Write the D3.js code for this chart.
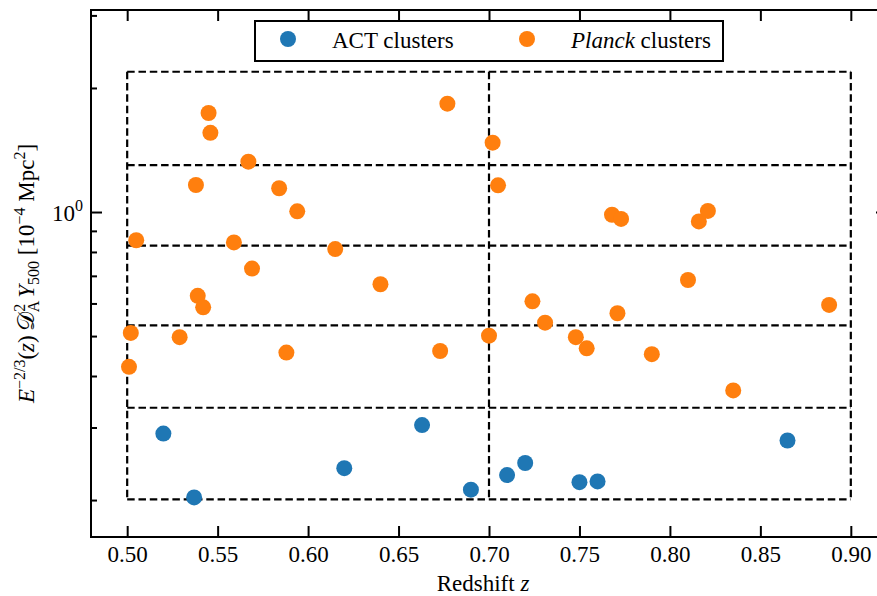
<!DOCTYPE html>
<html>
<head>
<meta charset="utf-8">
<script src="https://cdn.jsdelivr.net/npm/d3@7"></script>
<style>
  html, body { margin: 0; padding: 0; background: #fff; }
  svg { display: block; }
  text { font-family: "Liberation Serif", "DejaVu Serif", serif; fill: #000; }
</style>
</head>
<body>
<svg id="chart" width="877" height="596"></svg>
<script>
// ---------------- data ----------------
const actZ = [0.520, 0.537, 0.620, 0.663, 0.690, 0.710, 0.720, 0.750, 0.760, 0.865];
const actY = [0.290, 0.203, 0.239, 0.304, 0.212, 0.230, 0.246, 0.221, 0.222, 0.279];

const planckZ = [0.501, 0.502, 0.505, 0.529, 0.538, 0.539, 0.542, 0.545, 0.546, 0.559,
                 0.567, 0.569, 0.584, 0.588, 0.594, 0.615, 0.640, 0.673, 0.677, 0.700,
                 0.702, 0.705, 0.724, 0.731, 0.748, 0.754, 0.768, 0.773, 0.771, 0.790,
                 0.810, 0.816, 0.821, 0.835, 0.888];
const planckY = [0.421, 0.509, 0.854, 0.497, 1.163, 0.626, 0.587, 1.739, 1.557, 0.844,
                 1.325, 0.729, 1.142, 0.456, 1.004, 0.813, 0.668, 0.460, 1.832, 0.501,
                 1.473, 1.161, 0.607, 0.539, 0.497, 0.467, 0.985, 0.962, 0.568, 0.452,
                 0.684, 0.949, 1.006, 0.369, 0.595];

// bin grid (dashed boxes)
const binZ = [0.5, 0.7, 0.9];
const binY = [0.2007, 0.335, 0.531, 0.8285, 1.30, 2.19];

// ticks
const xTicks = [0.50, 0.55, 0.60, 0.65, 0.70, 0.75, 0.80, 0.85, 0.90];
const xTickLabels = ["0.50", "0.55", "0.60", "0.65", "0.70", "0.75", "0.80", "0.85", "0.90"];
const yMajorTicks = [1];
const yMinorTicks = [0.2, 0.3, 0.4, 0.5, 0.6, 0.7, 0.8, 0.9, 2, 3];

const seriesNames = ["ACT clusters", "Planck clusters"];
const colors = ["#1f77b4", "#ff7f0e"];

// ---------------- layout ----------------
const L = 91, R = 887, T = 10, B = 537;
const svg = d3.select("#chart");
svg.append("rect").attr("width", 877).attr("height", 596).attr("fill", "#fff");

const x = d3.scaleLinear().domain([0.48, 0.92]).range([L, R]);
const y = d3.scaleLog().domain([0.1627, 3.092]).range([B, T]);

const dash = "7.5,3.8";
const grid = svg.append("g").attr("fill", "none").attr("stroke", "#000")
  .attr("stroke-width", 2.2).attr("stroke-dasharray", dash);

binZ.forEach(z => {
  grid.append("path").attr("d", d3.line()([[x(z), y(binY[binY.length - 1])], [x(z), y(binY[0])]]));
});
binY.forEach(v => {
  grid.append("path").attr("d", d3.line()([[x(binZ[0]), y(v)], [x(binZ[binZ.length - 1]), y(v)]]));
});

// points
const pts = svg.append("g");
pts.selectAll("circle.act").data(actZ.map((z, i) => [z, actY[i]])).enter()
  .append("circle").attr("class", "act")
  .attr("cx", d => x(d[0])).attr("cy", d => y(d[1])).attr("r", 8)
  .attr("fill", colors[0]);
pts.selectAll("circle.planck").data(planckZ.map((z, i) => [z, planckY[i]])).enter()
  .append("circle").attr("class", "planck")
  .attr("cx", d => x(d[0])).attr("cy", d => y(d[1])).attr("r", 8)
  .attr("fill", colors[1]);

// ---------------- axes ----------------
const fs = 23;
const axB = svg.append("g").attr("transform", `translate(0,${B})`)
  .call(d3.axisBottom(x).tickValues(xTicks).tickSizeInner(-11).tickSizeOuter(0)
    .tickPadding(25).tickFormat((d, i) => xTickLabels[i]));
const axT = svg.append("g").attr("transform", `translate(0,${T})`)
  .call(d3.axisTop(x).tickValues(xTicks).tickSizeInner(-11).tickSizeOuter(0).tickFormat(""));
const axLmin = svg.append("g").attr("transform", `translate(${L},0)`)
  .call(d3.axisLeft(y).tickValues(yMinorTicks).tickSizeInner(-6).tickSizeOuter(0).tickFormat(""));
const axLmaj = svg.append("g").attr("transform", `translate(${L},0)`)
  .call(d3.axisLeft(y).tickValues(yMajorTicks).tickSizeInner(-11).tickSizeOuter(0).tickFormat(""));
const axRmin = svg.append("g").attr("transform", `translate(${R},0)`)
  .call(d3.axisRight(y).tickValues(yMinorTicks).tickSizeInner(-6).tickSizeOuter(0).tickFormat(""));
const axRmaj = svg.append("g").attr("transform", `translate(${R},0)`)
  .call(d3.axisRight(y).tickValues(yMajorTicks).tickSizeInner(-11).tickSizeOuter(0).tickFormat(""));

[axB, axT, axLmin, axLmaj, axRmin, axRmaj].forEach(g => {
  g.select(".domain").remove();
  g.selectAll(".tick line").attr("stroke", "#000").attr("stroke-width", 2);
});
axB.selectAll(".tick text").attr("font-size", fs).attr("font-family", "Liberation Serif").attr("fill", "#000").attr("dy", 0);

// y major tick label 10^0
yMajorTicks.forEach(v => {
  const t = svg.append("text").attr("x", L - 8).attr("y", y(v) + 9)
    .attr("text-anchor", "end").attr("font-size", fs);
  t.append("tspan").text("10");
  t.append("tspan").attr("font-size", 16).attr("dy", -10).text("0");
});

// spines
svg.append("rect").attr("x", L).attr("y", T).attr("width", R - L).attr("height", B - T)
  .attr("fill", "none").attr("stroke", "#000").attr("stroke-width", 2);

// axis labels
const xl = svg.append("text").attr("x", (x(0.48) + x(0.92)) / 2 - 6).attr("y", 591)
  .attr("text-anchor", "middle").attr("font-size", fs);
xl.append("tspan").text("Redshift ");
xl.append("tspan").attr("font-style", "italic").text("z");

const yl = svg.append("text").attr("transform", `translate(34,${(T + B) / 2}) rotate(-90)`)
  .attr("text-anchor", "middle").attr("font-size", fs);
yl.append("tspan").attr("font-style", "italic").text("E");
yl.append("tspan").attr("font-size", 16).attr("dy", -9).text("\u22122/3");
yl.append("tspan").attr("dy", 9).text("(");
yl.append("tspan").attr("font-style", "italic").text("z");
yl.append("tspan").text(")");
yl.append("tspan").attr("font-family", "DejaVu Sans").attr("font-size", 24).attr("dx", 4).text("\uD835\uDC9F");
yl.append("tspan").attr("font-size", 16).attr("dy", 5).text("A");
yl.append("tspan").attr("font-size", 16).attr("dx", -11).attr("dy", -14).text("2");
yl.append("tspan").attr("font-style", "italic").attr("dx", 6).attr("dy", 9).text("Y");
yl.append("tspan").attr("font-size", 16).attr("dy", 5).text("500");
yl.append("tspan").attr("dy", -5).text(" [10");
yl.append("tspan").attr("font-size", 16).attr("dy", -9).text("\u22124");
yl.append("tspan").attr("dy", 9).text(" Mpc");
yl.append("tspan").attr("font-size", 16).attr("dy", -9).text("2");
yl.append("tspan").attr("dy", 9).text("]");

// ---------------- legend ----------------
const lg = svg.append("g");
lg.append("rect").attr("x", 255).attr("y", 21).attr("width", 468).attr("height", 40)
  .attr("fill", "#fff").attr("stroke", "#000").attr("stroke-width", 2);
const legX = [288, 527];
seriesNames.forEach((name, i) => {
  lg.append("circle").attr("cx", legX[i]).attr("cy", 39).attr("r", 8).attr("fill", colors[i]);
  const t = lg.append("text").attr("x", legX[i] + 44).attr("y", 48).attr("font-size", fs);
  if (name.startsWith("Planck")) {
    t.append("tspan").attr("font-style", "italic").text("Planck");
    t.append("tspan").text(" clusters");
  } else {
    t.text(name);
  }
});
</script>
</body>
</html>
